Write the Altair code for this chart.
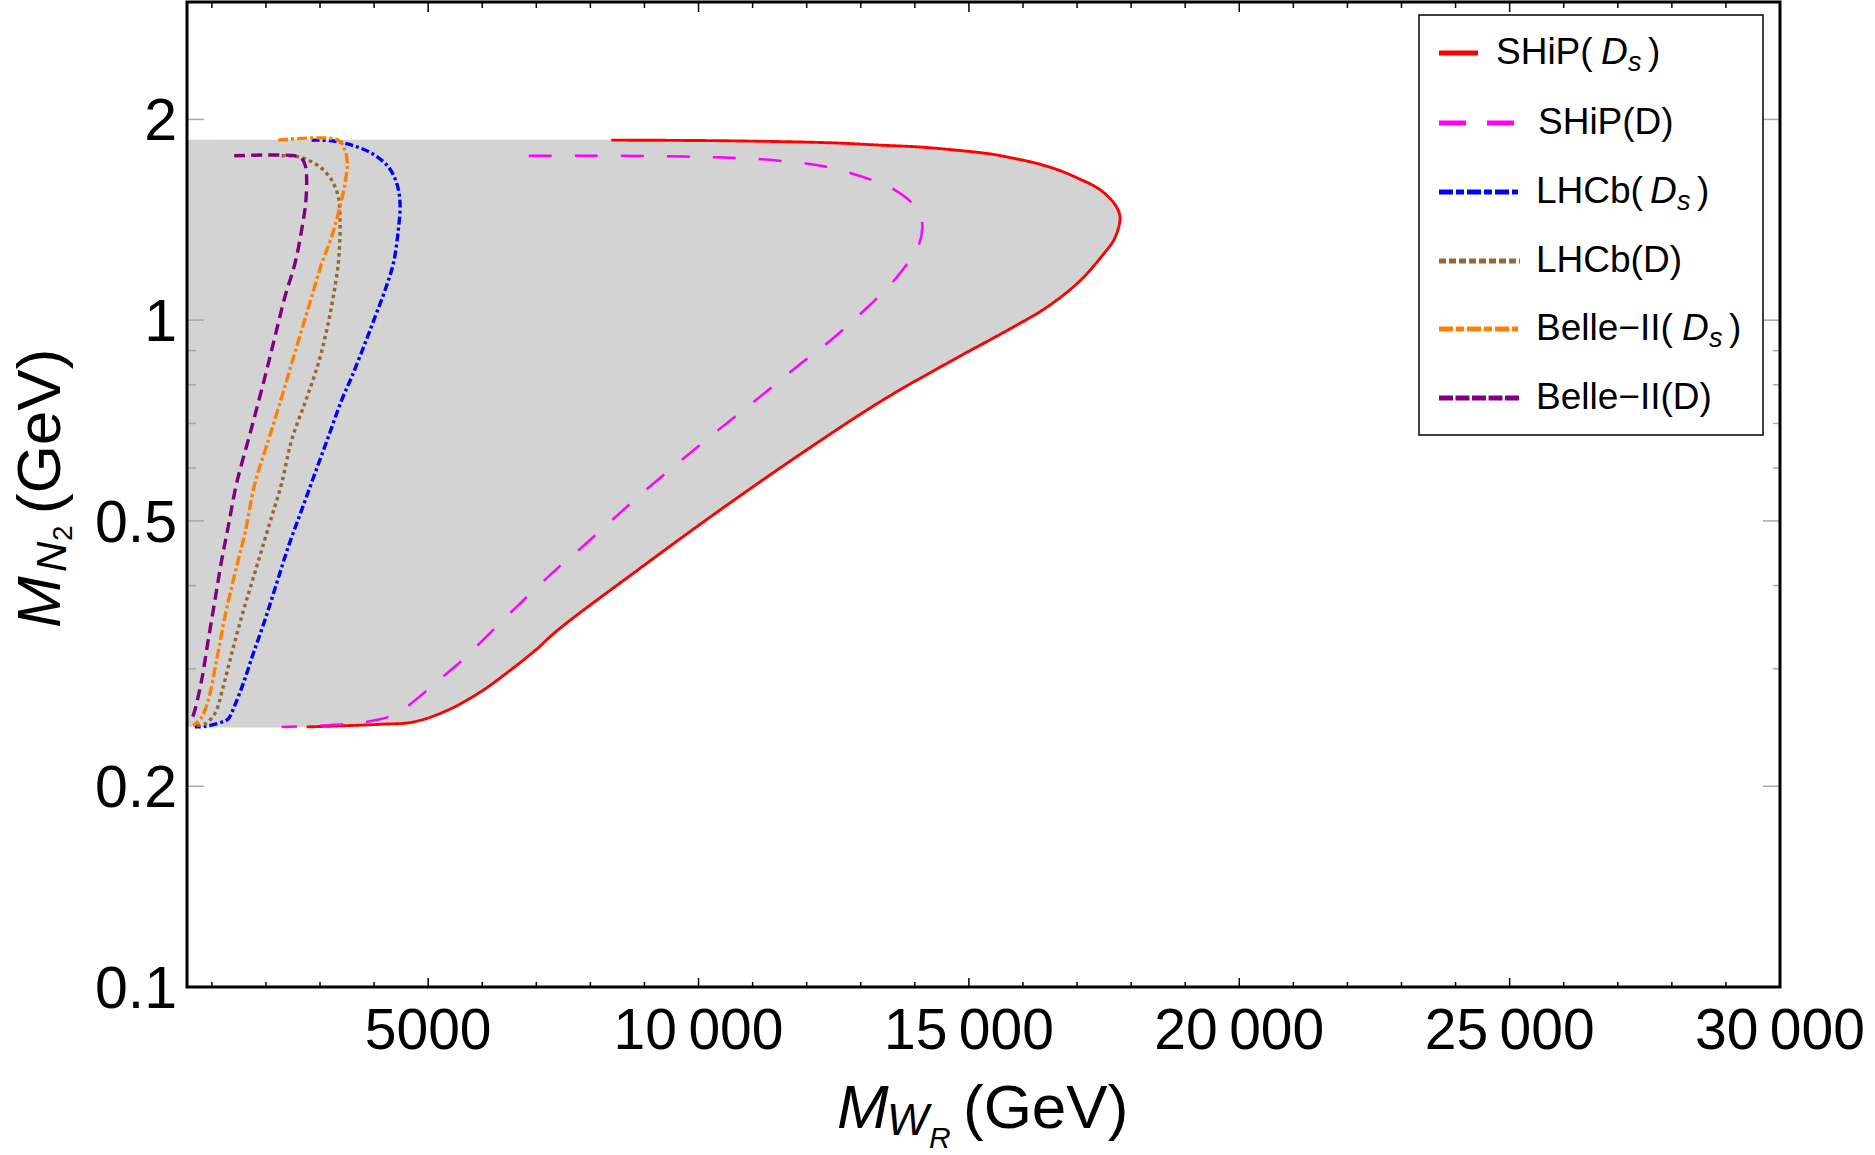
import altair as alt
import pandas as pd

# ---------------- data ----------------
X_MIN, X_MAX = 540, 30000
Y_MIN, Y_MAX = 0.1, 3.0

# SHiP(D_s) - red solid: upper branch (left -> tip) and lower branch (tip -> left)
ship_ds_up_x = [8386, 10459, 12439, 13365, 14105, 14753, 15401, 15808, 16233, 16659, 17011,
                17381, 17603, 17733, 17794]
ship_ds_up_y = [1.862, 1.858, 1.845, 1.830, 1.818, 1.799, 1.775, 1.750, 1.720, 1.679, 1.633,
                1.578, 1.524, 1.477, 1.429]
ship_ds_lo_x = [17794, 17770, 17678, 17498, 17067, 16451, 15715, 14700, 13410, 11988, 10395,
                8868, 7397, 6979, 6516, 5961, 5344, 4726, 4110, 2753]
ship_ds_lo_y = [1.429, 1.379, 1.318, 1.259, 1.148, 1.047, 0.966, 0.871, 0.759, 0.638, 0.519,
                0.4216, 0.343, 0.3197, 0.2984, 0.2768, 0.2597, 0.2497, 0.2477, 0.2455]

# grey region: top edge and bottom edge where it meets the left frame
grey_top_y = 1.862
grey_bottom_y = 0.2455

# SHiP(D) - magenta long dashes
ship_d_x = [6860, 7810, 8800, 9730, 10590, 11440, 12370, 13230, 13610, 13950, 14100, 14140,
            14050, 13790, 13500, 13160, 12440, 11830, 11140, 10450, 9750, 9090, 8430, 7770,
            7440, 6640, 5840, 5530, 5160, 4850, 4450, 4110, 3620, 3190, 2290]
ship_d_y = [1.764, 1.764, 1.763, 1.759, 1.752, 1.736, 1.698, 1.620, 1.571, 1.498, 1.438, 1.378,
            1.281, 1.194, 1.119, 1.052, 0.932, 0.853, 0.768, 0.693, 0.623, 0.562, 0.504, 0.451,
            0.428, 0.372, 0.321, 0.304, 0.287, 0.273, 0.258, 0.252, 0.2485, 0.247, 0.2455]

# LHCb(D_s) - blue dot-dashed
lhcb_ds_x = [2845, 3216, 3586, 3956, 4263, 4419, 4480, 4448, 4356, 4202, 4017, 3832, 3586,
             3401, 3153, 2906, 2660, 2412, 2198, 1981, 1764, 1579, 1420, 1302, 1180, 870, 685]
lhcb_ds_y = [1.862, 1.858, 1.830, 1.779, 1.698, 1.604, 1.497, 1.365, 1.216, 1.109, 1.011, 0.923,
             0.822, 0.759, 0.668, 0.589, 0.519, 0.457, 0.403, 0.355, 0.316, 0.285, 0.264, 0.2524,
             0.2495, 0.2459, 0.2455]

# LHCb(D) - brown dotted
lhcb_d_x = [2290, 2597, 2845, 3031, 3216, 3338, 3369, 3369, 3338, 3245, 3123, 2968, 2740, 2475,
            2290, 2105, 1920, 1735, 1550, 1365, 1209, 1055, 870, 717]
lhcb_d_y = [1.764, 1.758, 1.728, 1.689, 1.622, 1.531, 1.429, 1.334, 1.216, 1.084, 0.966, 0.861,
            0.759, 0.661, 0.569, 0.507, 0.452, 0.403, 0.359, 0.316, 0.282, 0.257, 0.248, 0.2467]

# Belle-II(D_s) - orange dot-dashed
belle_ds_x = [2227, 3338, 3462, 3504, 3462, 3369, 3216, 3031, 2845, 2660, 2475, 2286, 2046,
              1796, 1611, 1426, 1241, 1087, 932, 796, 654]
belle_ds_y = [1.862, 1.862, 1.799, 1.719, 1.604, 1.479, 1.334, 1.216, 1.084, 0.966, 0.861, 0.764,
              0.661, 0.569, 0.479, 0.417, 0.359, 0.309, 0.269, 0.2528, 0.2467]

# Belle-II(D) - purple dashed
belle_d_x = [1413, 2536, 2660, 2734, 2753, 2734, 2660, 2536, 2351, 2166, 1982, 1723, 1457, 1302,
             1180, 1056, 932, 809, 685, 612]
belle_d_y = [1.764, 1.764, 1.748, 1.698, 1.622, 1.497, 1.365, 1.216, 1.084, 0.944, 0.822, 0.684,
             0.569, 0.490, 0.436, 0.380, 0.331, 0.288, 0.260, 0.2495]

# ticks and tick labels
x_label_values = [5000, 10000, 15000, 20000, 25000, 30000]
x_label_text = ["5000", "10\u2009000", "15\u2009000", "20\u2009000", "25\u2009000", "30\u2009000"]
x_minor_ticks = [1000, 2000, 3000, 4000, 6000, 7000, 8000, 9000, 11000, 12000, 13000, 14000,
                 16000, 17000, 18000, 19000, 21000, 22000, 23000, 24000, 26000, 27000, 28000, 29000]
y_label_values = [0.1, 0.2, 0.5, 1, 2]
y_label_text = ["0.1", "0.2", "0.5", "1", "2"]
y_minor_ticks = [0.3, 0.4, 0.6, 0.7, 0.8, 0.9]

# legend entries: (prefix, italic part, subscript, suffix)
legend_entries = [
    ("SHiP(", "D", "s", ")"),
    ("SHiP(D)", "", "", ""),
    ("LHCb(", "D", "s", ")"),
    ("LHCb(D)", "", "", ""),
    ("Belle\u2212II(", "D", "s", ")"),
    ("Belle\u2212II(D)", "", "", ""),
]

# ---------------- styling ----------------
W, H = 1593, 985
FONT = "Liberation Sans"
GREY = "#D3D3D3"

ship_ds_x = ship_ds_up_x + ship_ds_lo_x[1:]
ship_ds_y = ship_ds_up_y + ship_ds_lo_y[1:]

series = [
    (ship_ds_x, ship_ds_y, "#FF0000", [1, 0], 2.9, [1, 0], 1291),
    (ship_d_x, ship_d_y, "#FF00FF", [23, 23], 2.5, [27, 21], 1327),
    (lhcb_ds_x, lhcb_ds_y, "#0000FF", [8, 3, 3, 3], 3.4, [14, 3, 8, 3], 1331),
    (lhcb_d_x, lhcb_d_y, "#996633", [3.5, 3.5], 3.4, [7, 3], 1333),
    (belle_ds_x, belle_ds_y, "#FF8000", [10, 3, 3, 3], 3.4, [14, 3, 8, 3], 1331),
    (belle_d_x, belle_d_y, "#800080", [11, 6], 3.4, [14, 2.5], 1333),
]

xs = alt.Scale(domain=[X_MIN, X_MAX], zero=False, nice=False)
ys = alt.Scale(type="log", domain=[Y_MIN, Y_MAX], nice=False)


def X(f):
    return alt.X(f, scale=xs, axis=None)


def Y(f):
    return alt.Y(f, scale=ys, axis=None)


def sdf(xv, yv):
    return pd.DataFrame({"x": xv, "y": yv, "idx": list(range(len(xv)))})


layers = []

# grey region: closed outline (left frame top -> red curve -> left frame bottom), filled
poly = sdf([X_MIN] + ship_ds_x + [X_MIN], [grey_top_y] + ship_ds_y + [grey_bottom_y])
layers.append(alt.Chart(poly).mark_line(fill=GREY, stroke=GREY, strokeWidth=0.5,
                                        interpolate="catmull-rom").encode(
    x=X("x:Q"), y=Y("y:Q"), order="idx:Q"))

# ticks (inward, Mathematica style)
xt_major = pd.DataFrame({"v": x_label_values, "t": x_label_text})
xt_minor = pd.DataFrame({"v": x_minor_ticks})
yt_major = pd.DataFrame({"v": y_label_values, "t": y_label_text})
yt_minor = pd.DataFrame({"v": y_minor_ticks})

for df, ln in ((xt_major, 9), (xt_minor, 5)):
    layers.append(alt.Chart(df).mark_rule(color="black", strokeWidth=1.5).encode(
        x=X("v:Q"), y=alt.value(H), y2=alt.value(H - ln)))
    layers.append(alt.Chart(df).mark_rule(color="black", strokeWidth=1.5).encode(
        x=X("v:Q"), y=alt.value(0), y2=alt.value(ln + 1)))
for df, ln, lr in ((yt_major, 17, 17), (yt_minor, 9, 7)):
    layers.append(alt.Chart(df).mark_rule(color="#A8A8A8", strokeWidth=1.5).encode(
        y=Y("v:Q"), x=alt.value(0), x2=alt.value(ln)))
    layers.append(alt.Chart(df).mark_rule(color="#A8A8A8", strokeWidth=1.5).encode(
        y=Y("v:Q"), x=alt.value(W), x2=alt.value(W - lr)))

# tick labels
layers.append(alt.Chart(xt_major).mark_text(
    font=FONT, fontSize=57, color="black", align="center", baseline="alphabetic").encode(
    x=X("v:Q"), y=alt.value(H + 62), text="t:N"))
layers.append(alt.Chart(yt_major).mark_text(
    font=FONT, fontSize=59, color="black", align="right", baseline="alphabetic", dy=21).encode(
    y=Y("v:Q"), x=alt.value(-10), text="t:N"))

# curves
for xv, yv, col, dash, sw, _, _ in series:
    layers.append(
        alt.Chart(sdf(xv, yv)).mark_line(color=col, strokeDash=dash, strokeWidth=sw,
                                         interpolate="catmull-rom").encode(
            x=X("x:Q"), y=Y("y:Q"), order="idx:Q"))

one = pd.DataFrame({"a": [0]})

# frame
layers.append(alt.Chart(one).mark_rect(fill="transparent", stroke="black", strokeWidth=3).encode(
    x=alt.value(0), x2=alt.value(W), y=alt.value(0), y2=alt.value(H)))


def txt(s, x, y, size, italic=False, angle=0):
    kw = dict(text=s, align="left", baseline="alphabetic", font=FONT, fontSize=size,
              color="black", angle=angle)
    if italic:
        kw["fontStyle"] = "italic"
    return alt.Chart(one).mark_text(**kw).encode(x=alt.value(x), y=alt.value(y))


# legend box
layers.append(alt.Chart(one).mark_rect(fill="white", stroke="black", strokeWidth=1.5).encode(
    x=alt.value(1232), x2=alt.value(1576), y=alt.value(13), y2=alt.value(433)))

row_centers = [51, 121, 190, 259, 327, 396]
text_x = [1309, 1351, 1349, 1349, 1349, 1349]
italic_x = [1414, None, 1463, None, 1495, None]
for i, (entry, s) in enumerate(zip(legend_entries, series)):
    col, ldash, lend = s[2], s[5], s[6]
    cy = row_centers[i]
    layers.append(alt.Chart(one).mark_rule(color=col, strokeDash=ldash, strokeWidth=5).encode(
        x=alt.value(1252), x2=alt.value(lend), y=alt.value(cy)))
    pre, it, sub, suf = entry
    bl = cy + 11
    layers.append(txt(pre, text_x[i], bl, 37))
    if it:
        ix = italic_x[i]
        layers.append(txt(it, ix, bl, 37, italic=True))
        layers.append(txt(sub, ix + 27, bl + 7, 27, italic=True))
        layers.append(txt(suf, ix + 47, bl, 37))

# x axis title  M_{W_R}(GeV)
layers.append(txt("M", 650, 1126, 62, italic=True))
layers.append(txt("W", 700, 1133, 44, italic=True))
layers.append(txt("R", 742, 1146, 30, italic=True))
layers.append(txt("(GeV)", 776, 1126, 62))

# y axis title  M_{N_2}(GeV), rotated
layers.append(txt("M", -127, 626, 62, italic=True, angle=270))
layers.append(txt("N", -121, 570, 42, italic=True, angle=270))
layers.append(txt("2", -115, 539, 28, angle=270))
layers.append(txt("(GeV)", -127, 512, 62, angle=270))

chart = alt.layer(*layers).properties(
    width=W, height=H,
    padding={"left": 187, "top": 2, "right": 95, "bottom": 168},
    autosize=alt.AutoSizeParams(type="none"),
    background="white",
).configure_view(stroke="transparent")

chart.save("out.html", embed_options={"renderer": "svg", "actions": False})
